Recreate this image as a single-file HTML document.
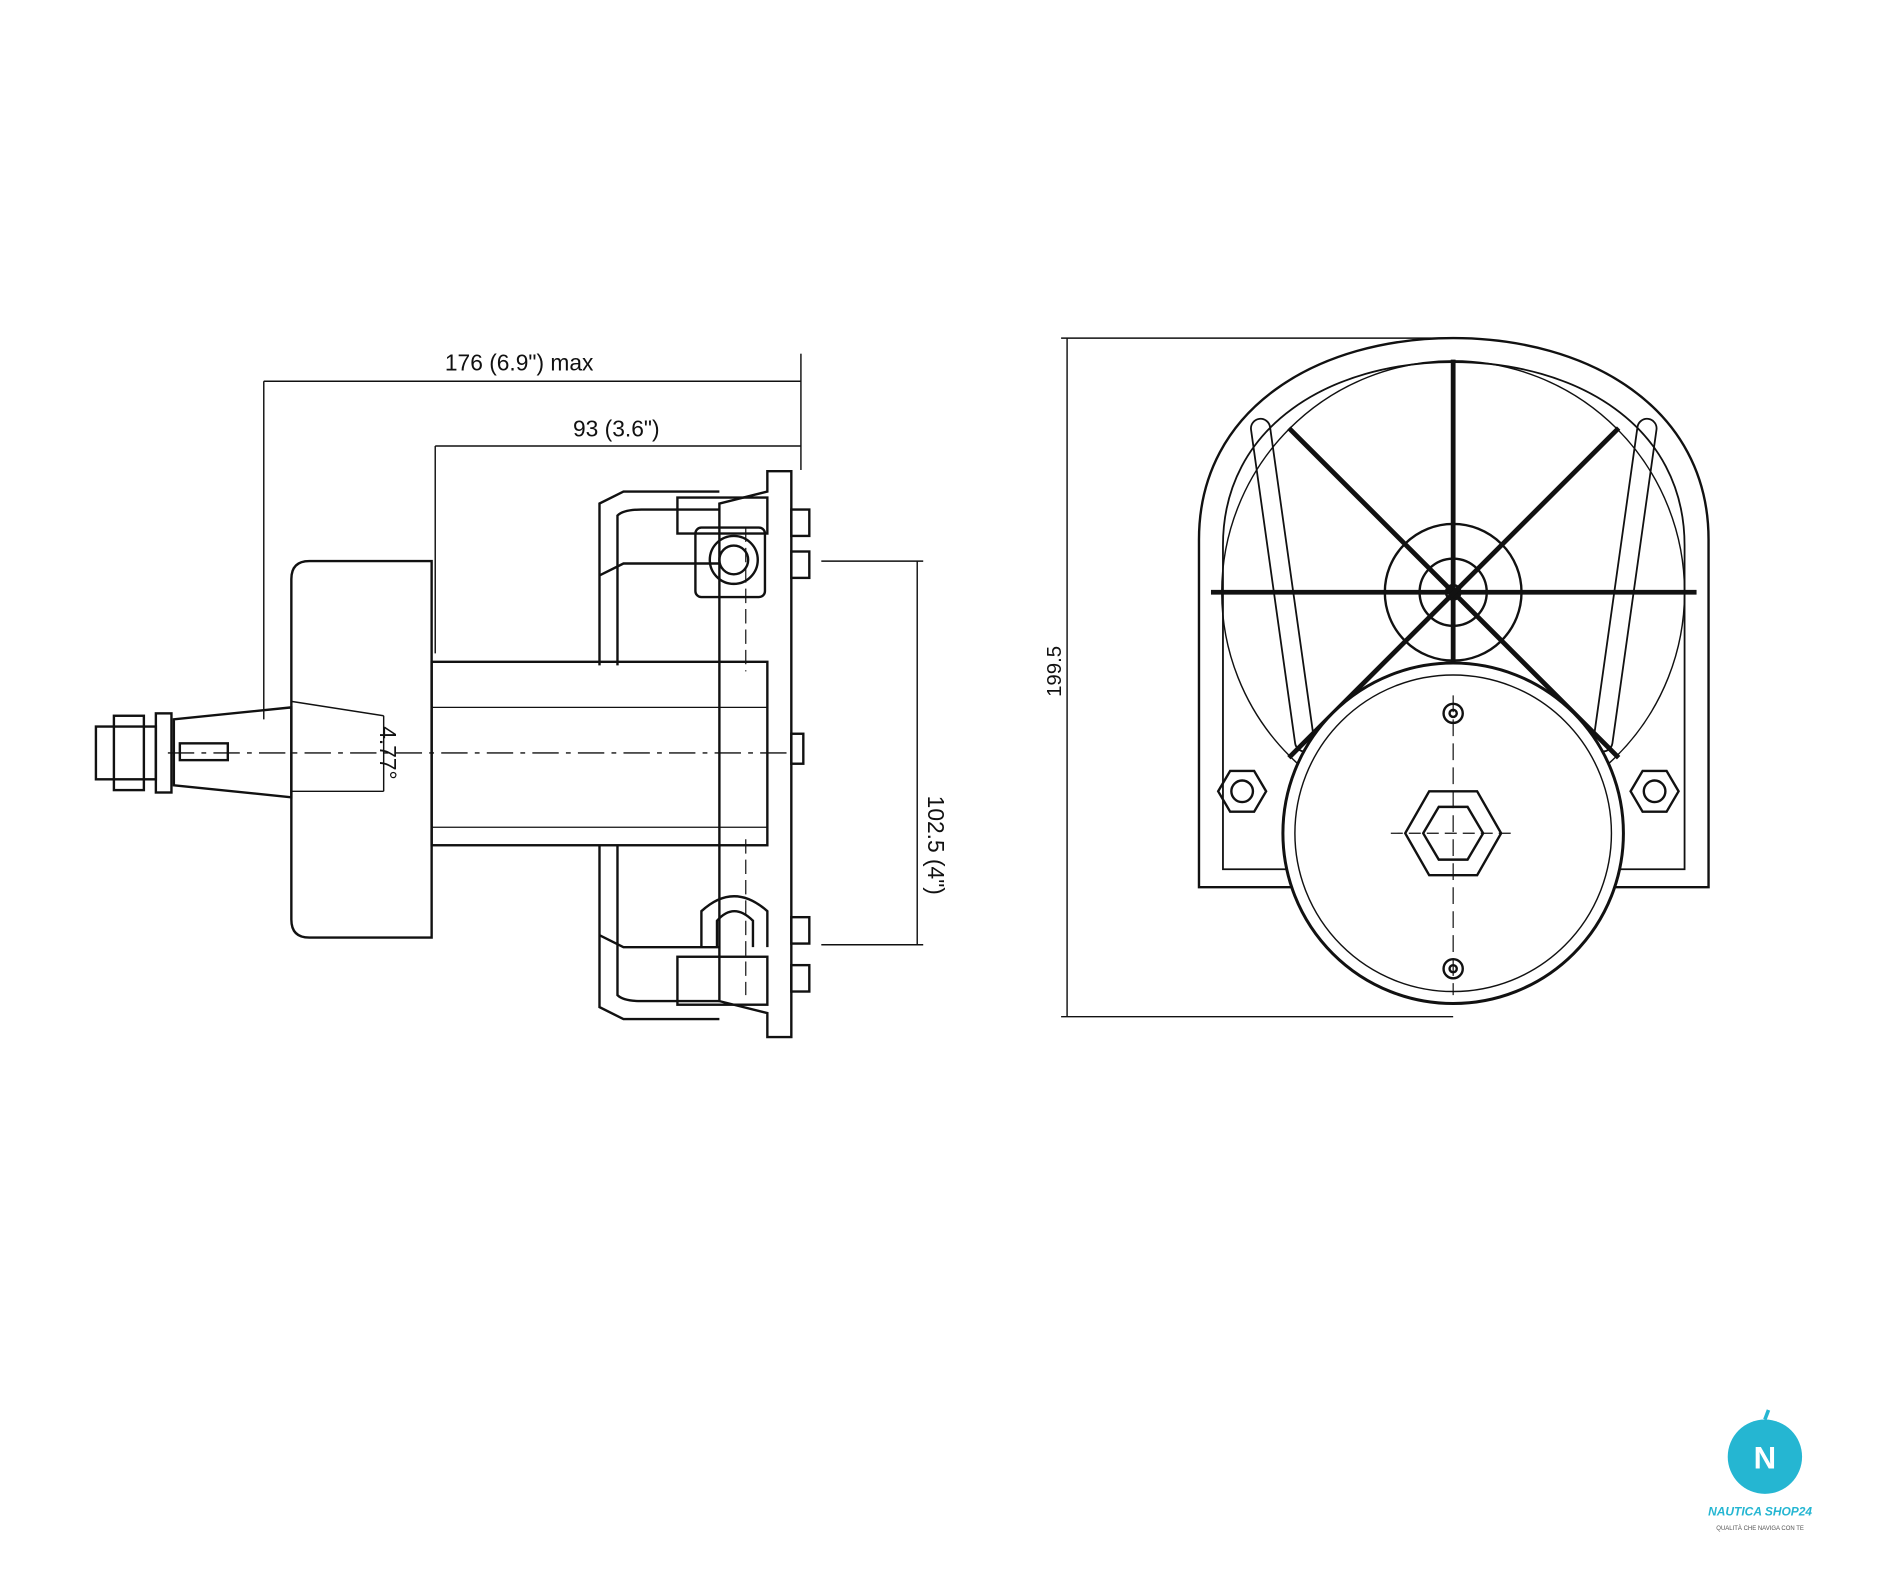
<!DOCTYPE html>
<html><head><meta charset="utf-8"><style>
html,body{margin:0;padding:0;background:#fff;}
svg{display:block}
text{font-family:"Liberation Sans",sans-serif;fill:#111}
</style></head><body>
<svg width="1880" height="1576" viewBox="0 0 1568 1314.5" preserveAspectRatio="none" xmlns="http://www.w3.org/2000/svg">
<rect width="1568" height="1315" fill="#fff"/>
<g stroke="#111" stroke-width="2" fill="none">
<line x1="220" y1="318" x2="220" y2="600" stroke-width="1.2"/>
<line x1="220" y1="318" x2="668" y2="318" stroke-width="1.2"/>
<line x1="668" y1="295" x2="668" y2="392" stroke-width="1.2"/>
<line x1="363" y1="372" x2="668" y2="372" stroke-width="1.2"/>
<line x1="363" y1="372" x2="363" y2="545" stroke-width="1.2"/>
<line x1="685" y1="468" x2="770" y2="468" stroke-width="1.2"/>
<line x1="685" y1="788" x2="770" y2="788" stroke-width="1.2"/>
<line x1="765" y1="468" x2="765" y2="788" stroke-width="1.2"/>
<path d="M258,468 L360,468 L360,782 L258,782 Q243,782 243,767 L243,483 Q243,468 258,468 Z"/>
<line x1="243" y1="585" x2="320" y2="597" stroke-width="1.2"/>
<line x1="243" y1="660" x2="320" y2="660" stroke-width="1.2"/>
<line x1="320" y1="597" x2="320" y2="660" stroke-width="1.2"/>
<rect x="360" y="552" width="280" height="153"/>
<line x1="360" y1="590" x2="640" y2="590" stroke-width="1"/>
<line x1="360" y1="690" x2="640" y2="690" stroke-width="1"/>
<path d="M243,590 L145,600 L145,655 L243,665 Z"/>
<rect x="150" y="620" width="40" height="14"/>
<rect x="130" y="595" width="13" height="66"/>
<rect x="80" y="606" width="50" height="44"/>
<rect x="95" y="597" width="25" height="62"/>
<line x1="140" y1="628" x2="660" y2="628" stroke-dasharray="22,6,4,6" stroke-width="1.2"/>
<path d="M640,393 L660,393 L660,865 L640,865 L640,845 L600,835 L600,420 L640,410 Z"/>
<rect x="660" y="425" width="15" height="22"/><rect x="660" y="460" width="15" height="22"/>
<rect x="660" y="765" width="15" height="22"/><rect x="660" y="805" width="15" height="22"/>
<rect x="660" y="612" width="10" height="25"/>
<path d="M500,555 L500,420 L520,410 L600,410"/>
<path d="M515,555 L515,430 Q520,425 535,425 L600,425"/>
<path d="M500,480 L520,470 L600,470"/>
<rect x="565" y="415" width="75" height="30"/>
<rect x="580" y="440" width="58" height="58" rx="5"/>
<circle cx="612" cy="467" r="20"/><circle cx="612" cy="467" r="12"/>
<line x1="622" y1="440" x2="622" y2="560" stroke-dasharray="12,5" stroke-width="1"/>
<path d="M500,705 L500,840 L520,850 L600,850"/>
<path d="M515,705 L515,830 Q520,835 535,835 L600,835"/>
<path d="M500,780 L520,790 L600,790"/>
<rect x="565" y="798" width="75" height="40"/>
<path d="M585,790 L585,760 Q612,735 640,760 L640,790"/>
<path d="M598,790 L598,768 Q612,752 628,768 L628,790"/>
<line x1="622" y1="700" x2="622" y2="830" stroke-dasharray="12,5" stroke-width="1"/>
<line x1="890" y1="282" x2="890" y2="848" stroke-width="1.2"/>
<line x1="885" y1="282" x2="1212" y2="282" stroke-width="1.2"/>
<line x1="885" y1="848" x2="1212" y2="848" stroke-width="1.2"/>
<path d="M1000,740 L1000,450 C1000,340 1100,282 1212,282 C1325,282 1425,340 1425,450 L1425,740 Z"/>
<path d="M1020,725 L1020,455 C1020,355 1110,302 1212,302 C1315,302 1405,355 1405,455 L1405,725 Z" stroke-width="1.5"/>
<circle cx="1212" cy="494" r="193" stroke-width="1.2"/>
<line x1="1010" y1="494" x2="1415" y2="494" stroke-width="4"/>
<line x1="1212" y1="300" x2="1212" y2="690" stroke-width="4"/>
<line x1="1075" y1="357" x2="1350" y2="632" stroke-width="4"/>
<line x1="1350" y1="357" x2="1075" y2="632" stroke-width="4"/>
<circle cx="1212" cy="494" r="57"/><circle cx="1212" cy="494" r="28"/><circle cx="1212" cy="494" r="6"/>
<rect x="1062" y="348" width="16" height="280" rx="8" transform="rotate(-8 1070 490)" stroke-width="1.5"/>
<rect x="1347" y="348" width="16" height="280" rx="8" transform="rotate(8 1355 490)" stroke-width="1.5"/>
<circle cx="1212" cy="695" r="142" fill="#fff" stroke-width="2.5"/>
<circle cx="1212" cy="695" r="132" stroke-width="1.2"/>
<polygon points="1252,695 1232,730 1192,730 1172,695 1192,660 1232,660"/>
<polygon points="1237,695 1224,717 1200,717 1187,695 1200,673 1224,673"/>
<line x1="1160" y1="695" x2="1265" y2="695" stroke-width="1" stroke-dasharray="10,5"/>
<line x1="1212" y1="580" x2="1212" y2="830" stroke-width="1" stroke-dasharray="14,6"/>
<circle cx="1212" cy="595" r="8"/><circle cx="1212" cy="595" r="3"/>
<circle cx="1212" cy="808" r="8"/><circle cx="1212" cy="808" r="3"/>
<polygon points="1056,660 1046,677 1026,677 1016,660 1026,643 1046,643"/><circle cx="1036" cy="660" r="9"/>
<polygon points="1400,660 1390,677 1370,677 1360,660 1370,643 1390,643"/><circle cx="1380" cy="660" r="9"/>
</g>
<text x="433" y="309" font-size="19" text-anchor="middle">176 (6.9") max</text>
<text x="514" y="364" font-size="19" text-anchor="middle">93 (3.6")</text>
<text transform="translate(317,628) rotate(90)" font-size="19" text-anchor="middle">4.77°</text>
<text transform="translate(774,705) rotate(90)" font-size="19" text-anchor="middle">102.5 (4")</text>
<text transform="translate(885,560) rotate(-90)" font-size="17" text-anchor="middle">199.5</text>
<circle cx="1472" cy="1215" r="31" fill="#25b6d2"/>
<path d="M1472,1184 L1475,1176" stroke="#25b6d2" stroke-width="3"/>
<text x="1472" y="1225" font-size="26" font-weight="bold" text-anchor="middle" style="fill:#fff">N</text>
<text x="1468" y="1264" font-size="10" font-weight="bold" font-style="italic" text-anchor="middle" style="fill:#25b6d2">NAUTICA SHOP24</text>
<text x="1468" y="1276" font-size="5" text-anchor="middle" style="fill:#555">QUALITÀ CHE NAVIGA CON TE</text>
</svg>
</body></html>
